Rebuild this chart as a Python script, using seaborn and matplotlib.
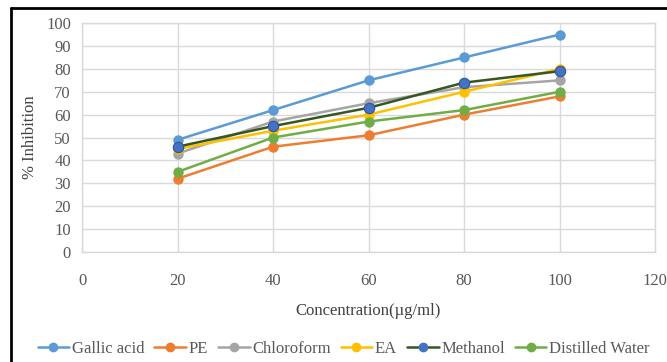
import matplotlib
matplotlib.use("Agg")
import matplotlib.pyplot as plt
import seaborn as sns
import pandas as pd
from matplotlib.lines import Line2D

concentration = [20, 40, 60, 80, 100]
gallic_acid = [49, 62, 75, 85, 95]
pe = [32, 46, 51, 60, 68]
chloroform = [43, 57, 65, 72, 75]
ea = [45, 53, 60, 70, 80]
methanol = [46, 55, 63, 74, 79]
distilled_water = [35, 50, 57, 62, 70]

series_names = ["Gallic acid", "PE", "Chloroform", "EA", "Methanol", "Distilled Water"]
series_values = [gallic_acid, pe, chloroform, ea, methanol, distilled_water]
line_colors = ["#5B9BD5", "#ED7D31", "#A5A5A5", "#FFC000", "#375623", "#70AD47"]
marker_colors = ["#5B9BD5", "#ED7D31", "#A5A5A5", "#FFC000", "#4472C4", "#70AD47"]

rows = []
for name, vals in zip(series_names, series_values):
    for c, v in zip(concentration, vals):
        rows.append({"Concentration": c, "Inhibition": v, "Series": name})
df = pd.DataFrame(rows)

sns.set_theme(style="white")
plt.rcParams['font.family'] = ['Liberation Serif', 'DejaVu Serif']

fig = plt.figure(figsize=(6.67, 3.62), dpi=100)
ax = fig.add_axes([0.123, 0.304, 0.859, 0.632])

palette = dict(zip(series_names, line_colors))
sns.lineplot(data=df, x="Concentration", y="Inhibition", hue="Series",
             palette=palette, marker="o", markersize=7.5, linewidth=1.8,
             markeredgewidth=0, ax=ax, legend=False, hue_order=series_names)

for line, name, mc in zip(ax.get_lines(), series_names, marker_colors):
    line.set_markerfacecolor(mc)
    if name == "Methanol":
        line.set_markeredgecolor("#2F5597")
        line.set_markeredgewidth(0.8)
    else:
        line.set_markeredgecolor(mc)

fs = 12
ax.set_xlim(0, 120)
ax.set_ylim(0, 100)
ax.set_xticks(range(0, 121, 20))
ax.set_yticks(range(0, 101, 10))
ax.grid(True, color="#D9D9D9", linewidth=1)
ax.set_axisbelow(True)
for s in ax.spines.values():
    s.set_color("#D9D9D9")
    s.set_linewidth(1)
ax.tick_params(axis="x", pad=15, labelsize=fs, colors="#595959", length=0)
ax.tick_params(axis="y", pad=8, labelsize=fs, colors="#595959", length=0)
ax.set_xlabel("Concentration(µg/ml)", fontsize=fs, color="#404040", labelpad=10)
ax.set_ylabel("% Inhibition", fontsize=fs, color="#404040", labelpad=6)

handles = [Line2D([0], [0], color=lc, marker="o", markersize=6, linewidth=1.8,
                  markerfacecolor=mc, markeredgecolor=mc)
           for lc, mc in zip(line_colors, marker_colors)]
fig.legend(handles, series_names, loc="center", bbox_to_anchor=(0.515, 0.035),
           ncol=6, frameon=False, fontsize=fs, handlelength=1.9,
           handletextpad=0.15, columnspacing=0.6, labelcolor="#595959")

# outer black frame
fig.add_artist(Line2D([11/667, 11/667], [0, 1 - 8/362], color="black", linewidth=2,
                      transform=fig.transFigure))
fig.add_artist(Line2D([11/667, 1], [1 - 8/362, 1 - 8/362], color="black", linewidth=2,
                      transform=fig.transFigure))

fig.savefig("out.png", dpi=100)
